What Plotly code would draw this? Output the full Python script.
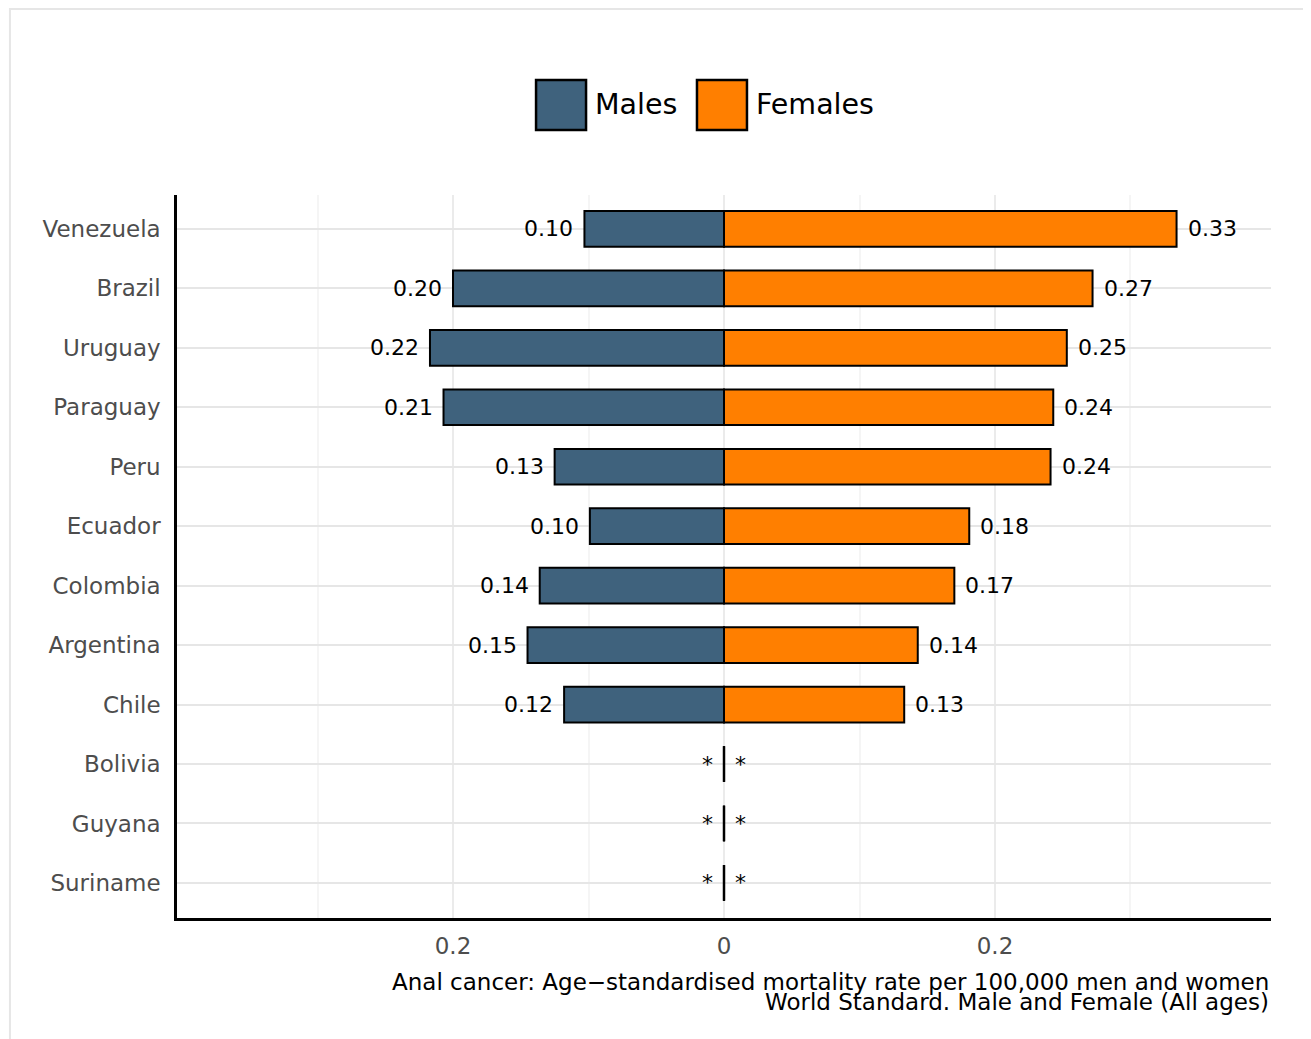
import plotly.graph_objects as go

countries = ["Venezuela", "Brazil", "Uruguay", "Paraguay", "Peru", "Ecuador",
             "Colombia", "Argentina", "Chile", "Bolivia", "Guyana", "Suriname"]
males = [0.103, 0.200, 0.217, 0.207, 0.125, 0.099, 0.136, 0.145, 0.118, 0.0, 0.0, 0.0]
females = [0.334, 0.272, 0.253, 0.243, 0.241, 0.181, 0.170, 0.143, 0.133, 0.0, 0.0, 0.0]
male_labels = ["0.10", "0.20", "0.22", "0.21", "0.13", "0.10", "0.14", "0.15", "0.12", "*", "*", "*"]
female_labels = ["0.33", "0.27", "0.25", "0.24", "0.24", "0.18", "0.17", "0.14", "0.13", "*", "*", "*"]
tick_vals = [-0.2, 0, 0.2]
tick_text = ["0.2", "0", "0.2"]
minor_vals = [-0.3, -0.1, 0.1, 0.3]

MALE_COLOR = "#3F627D"
FEMALE_COLOR = "#FF7F00"
FONT = "DejaVu Sans"

fig = go.Figure()
fig.add_trace(go.Bar(
    y=countries, x=[-v for v in males], orientation="h", name="Males",
    marker=dict(color=MALE_COLOR, line=dict(color="black", width=2)),
    width=0.6, showlegend=False, hoverinfo="skip"))
fig.add_trace(go.Bar(
    y=countries, x=females, orientation="h", name="Females",
    marker=dict(color=FEMALE_COLOR, line=dict(color="black", width=2)),
    width=0.6, showlegend=False, hoverinfo="skip"))

annotations = []
shapes = []
for i, c in enumerate(countries):
    annotations.append(dict(x=-males[i], y=c, xref="x", yref="y", text=male_labels[i],
                            showarrow=False, xanchor="right", yanchor="middle", xshift=-9,
                            font=dict(family=FONT, size=22, color="black")))
    annotations.append(dict(x=females[i], y=c, xref="x", yref="y", text=female_labels[i],
                            showarrow=False, xanchor="left", yanchor="middle", xshift=9,
                            font=dict(family=FONT, size=22, color="black")))
    if males[i] == 0 and females[i] == 0:
        shapes.append(dict(type="line", xref="x", yref="y", x0=0, x1=0,
                           y0=i - 0.3, y1=i + 0.3, line=dict(color="black", width=2.5)))

# axis title (two lines, right-aligned)
annotations.append(dict(x=1, y=-0.088, xref="paper", yref="paper",
                        text="Anal cancer: Age\u2212standardised mortality rate per 100,000 men and women",
                        showarrow=False, xanchor="right", yanchor="middle",
                        font=dict(family=FONT, size=23, color="black")))
annotations.append(dict(x=1, y=-0.1155, xref="paper", yref="paper",
                        text="World Standard. Male and Female (All ages)",
                        showarrow=False, xanchor="right", yanchor="middle",
                        font=dict(family=FONT, size=23, color="black")))

# custom legend
legend_items = [("Males", MALE_COLOR, 0.3282, 0.3739), ("Females", FEMALE_COLOR, 0.4753, 0.5210)]
for name, col, x0, x1 in legend_items:
    shapes.append(dict(type="rect", xref="paper", yref="paper", x0=x0, x1=x1,
                       y0=1.0899, y1=1.1591, fillcolor=col, line=dict(color="black", width=2.5)))
    annotations.append(dict(x=x1, y=1.1245, xref="paper", yref="paper", text=name,
                            showarrow=False, xanchor="left", yanchor="middle", xshift=7,
                            font=dict(family=FONT, size=28.5, color="black")))

# outer border
shapes.append(dict(type="rect", xref="paper", yref="paper", x0=-0.1527, x1=1.3,
                   y0=-0.5, y1=1.2572, line=dict(color="#e6e6e6", width=2), layer="below"))

fig.update_layout(
    width=1303, height=1031,
    margin=dict(l=169, r=40, t=187, b=121),
    paper_bgcolor="white", plot_bgcolor="white",
    barmode="overlay",
    font=dict(family=FONT),
    annotations=annotations, shapes=shapes,
    xaxis=dict(range=[-0.4037, 0.4037], tickvals=tick_vals, ticktext=tick_text,
               showgrid=True, gridcolor="#ebebeb", gridwidth=2, zeroline=False,
               showline=True, linecolor="black", linewidth=2.5, ticks="",
               ticklabelstandoff=6,
               tickfont=dict(family=FONT, size=23, color="#4d4d4d"),
               minor=dict(tickvals=minor_vals, showgrid=True, gridcolor="#f5f5f5", gridwidth=1.5)),
    yaxis=dict(categoryorder="array", categoryarray=countries, range=[11.59, -0.57],
               showgrid=True, gridcolor="#e6e6e6", gridwidth=2, zeroline=False,
               showline=True, linecolor="black", linewidth=2.5, ticks="",
               ticklabelstandoff=9,
               tickfont=dict(family=FONT, size=23, color="#4d4d4d")),
)

fig.write_html("out.html")
